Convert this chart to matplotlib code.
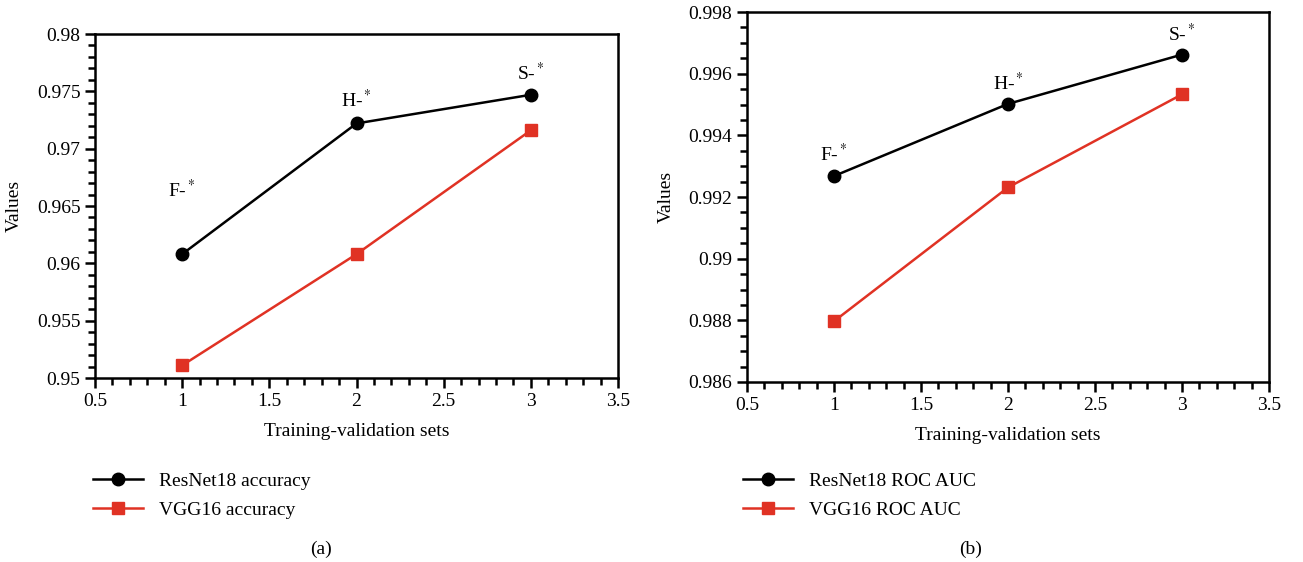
import matplotlib
matplotlib.use("Agg")
import matplotlib.pyplot as plt
from matplotlib.ticker import MultipleLocator, FormatStrFormatter

plt.rcParams['font.family'] = ['Liberation Serif', 'DejaVu Serif']
plt.rcParams['mathtext.fontset'] = 'stix'

# данные
sets = [1, 2, 3]
point_labels = ["F-$^*$", "H-$^*$", "S-$^*$"]

resnet_acc = [0.9608, 0.9722, 0.9747]
vgg_acc = [0.9511, 0.9608, 0.9716]

resnet_auc = [0.99268, 0.99502, 0.99662]
vgg_auc = [0.98797, 0.99231, 0.99533]

black = "#000000"
red = "#e03224"

fig = plt.figure(figsize=(13.03, 5.62), dpi=100)
ax1 = fig.add_axes([0.0729, 0.3274, 0.4014, 0.6121])
ax2 = fig.add_axes([0.5733, 0.3203, 0.4006, 0.6583])


def draw(ax, res, vgg, names, ylim, ymajor, yminor, offsets, leg_x, cap_x, cap):
    ax.plot(sets, res, color=black, lw=1.8, marker="o", ms=9, label=names[0])
    ax.plot(sets, vgg, color=red, lw=1.8, marker="s", ms=9, label=names[1])
    for x, y, t, off in zip(sets, res, point_labels, offsets):
        ax.annotate(t, (x, y), xytext=(0, off), textcoords="offset points",
                    ha="center", va="center", fontsize=14)
    ax.set_xlim(0.5, 3.5)
    ax.set_ylim(*ylim)
    ax.xaxis.set_major_locator(MultipleLocator(0.5))
    ax.xaxis.set_minor_locator(MultipleLocator(0.1))
    ax.yaxis.set_major_locator(MultipleLocator(ymajor))
    ax.yaxis.set_minor_locator(MultipleLocator(yminor))
    ax.xaxis.set_major_formatter(FormatStrFormatter("%g"))
    ax.yaxis.set_major_formatter(FormatStrFormatter("%g"))
    ax.tick_params(which="both", direction="out", width=1.8, labelsize=14,
                   top=False, right=False)
    ax.tick_params(which="major", length=7)
    ax.tick_params(which="minor", length=5)
    for s in ax.spines.values():
        s.set_linewidth(1.8)
    ax.set_xlabel("Training-validation sets", fontsize=14, labelpad=10)
    ax.set_ylabel("Values", fontsize=14, labelpad=10)
    ax.legend(loc="upper left", bbox_to_anchor=(leg_x, 0.16),
              bbox_transform=fig.transFigure, frameon=False, fontsize=14,
              handlelength=2.6, handletextpad=0.8, labelspacing=0.6,
              borderaxespad=0, borderpad=0)
    fig.text(cap_x, 0.015, cap, ha="center", fontsize=14)


draw(ax1, resnet_acc, vgg_acc, ["ResNet18 accuracy", "VGG16 accuracy"],
     (0.95, 0.98), 0.005, 0.001, [46, 17, 16], 0.071, 0.246, "(a)")
draw(ax2, resnet_auc, vgg_auc, ["ResNet18 ROC AUC", "VGG16 ROC AUC"],
     (0.986, 0.998), 0.002, 0.0005, [16, 15, 15], 0.570, 0.745, "(b)")

fig.savefig("out.png", dpi=100)
